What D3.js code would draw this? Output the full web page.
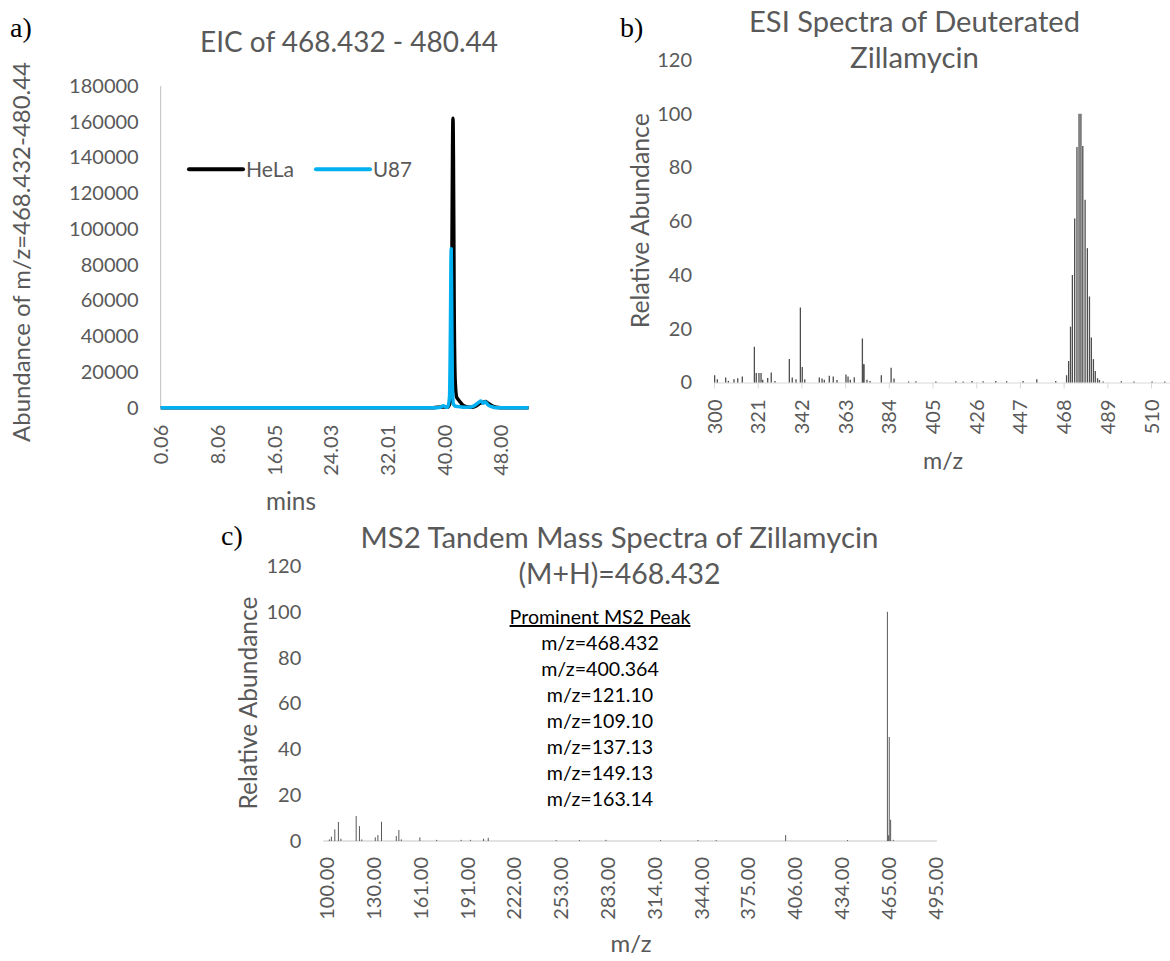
<!DOCTYPE html>
<html>
<head>
<meta charset="utf-8">
<script src="https://cdn.jsdelivr.net/npm/d3@7"></script>
<style>
body { margin: 0; background: #fff; }
svg text { font-family: Lato, "Open Sans", sans-serif; fill: #595959; }
.axis text { font-size: 20px; }
.panel-label { font-family: "Liberation Serif", "Times New Roman", serif; font-size: 28px; }
svg text.panel-label { fill: #000; }
</style>
</head>
<body>
<div id="chart"></div>
<script>

// -----------------------------------------------------------------------------
// Data
// -----------------------------------------------------------------------------

// a) extracted ion chromatogram
var eicTicks = [0.06, 8.06, 16.05, 24.03, 32.01, 40.00, 48.00];
var eicYTicks = [0, 20000, 40000, 60000, 80000, 100000, 120000, 140000, 160000, 180000];
var helaTime = [0.06, 30.0, 38.2, 39.0, 39.8, 40.5, 40.85, 41.0, 41.1, 41.18, 41.24, 41.3, 41.4, 41.55, 41.75, 42.0, 42.3, 42.7, 43.3, 44.0, 44.6, 45.1, 45.5, 45.8, 46.2, 46.7, 47.3, 48.0, 51.9];
var helaAbund = [0, 0, 0, 200, 400, 300, 3000, 25000, 90000, 145000, 162000, 140000, 60000, 15000, 6000, 4500, 3000, 1200, 400, 300, 1200, 2600, 3000, 3400, 2500, 1200, 300, 0, 0];
var u87Time = [0.06, 30.0, 38.4, 39.5, 39.87, 40.2, 40.5, 40.75, 40.88, 40.95, 40.99, 41.05, 41.15, 41.3, 41.6, 42.0, 42.6, 43.4, 44.2, 44.8, 45.2, 45.5, 45.8, 46.2, 46.7, 47.3, 51.9];
var u87Abund = [0, 0, 0, 300, 1100, 400, 200, 6000, 45000, 80000, 89000, 60000, 15000, 2000, 800, 600, 300, 200, 1000, 2800, 3700, 2500, 3300, 1500, 600, 0, 0];

// b) ESI spectrum
var esiTicks = [300, 321, 342, 363, 384, 405, 426, 447, 468, 489, 510];
var esiMz = [300.3, 301.6, 305.6, 306.9, 309.6, 311.4, 313.6, 319.4, 320.3, 321.6, 322.6, 323.4, 325.8, 327.5, 329.3,
             336.2, 337.6, 339.4, 341.5, 342.4, 343.6, 350.6, 351.9, 353.0, 355.4, 357.3, 359.1, 363.4, 364.4, 365.5,
             367.4, 371.3, 371.7, 372.1, 373.5, 375.0, 380.4, 385.1, 386.5, 393.5, 397.0, 406.6, 416.2, 419.7, 424.0,
             429.3, 435.4, 440.6, 448.5, 455.1, 464.2, 469.4, 470.4, 471.3, 472.2, 473.3, 474.4, 475.4, 476.3, 477.2,
             478.3, 479.4, 480.4, 481.3, 482.3, 483.2, 484.3, 485.2, 487.0, 495.7, 501.8, 510.5, 516.6];
var esiAbund = [2.7, 1.2, 1.9, 0.6, 1.2, 1.6, 2.2, 13.3, 3.5, 3.5, 3.5, 1.0, 1.7, 3.7, 0.6,
                8.7, 1.9, 1.2, 27.9, 5.8, 1.2, 1.9, 1.5, 1.0, 2.5, 2.2, 0.9, 3.0, 2.2, 1.0,
                2.0, 16.4, 6.8, 6.8, 1.0, 0.6, 2.7, 5.5, 1.5, 0.4, 0.5, 0.4, 0.5, 0.4, 0.6,
                0.5, 0.6, 0.5, 0.6, 1.2, 0.6, 2.7, 8.0, 20.8, 40.0, 61.0, 87.6, 100, 100, 88.0,
                68.0, 50.0, 32.0, 16.7, 8.7, 4.3, 1.6, 0.9, 0.4, 0.5, 0.4, 0.4, 0.4];

// c) MS2 spectrum
var ms2Ticks = [100, 130, 161, 191, 222, 253, 283, 314, 344, 375, 406, 434, 465, 495];
var ms2Mz = [101.7, 103.0, 105.2, 107.5, 109.1, 118.9, 121.0, 122.5, 131.2, 132.9, 135.3, 145.1, 146.8, 148.4,
             160.7, 171.5, 187.2, 193.2, 201.9, 205.0, 250.0, 265.0, 282.0, 318.0, 342.0, 354.0, 400.0, 438.0,
             464.4, 465.2, 465.6, 466.5, 468.2];
var ms2Abund = [0.7, 1.9, 5.1, 8.3, 1.0, 10.9, 6.5, 0.7, 1.6, 2.6, 8.4, 2.2, 4.8, 0.7,
                1.6, 0.5, 0.5, 0.5, 1.0, 1.4, 0.4, 0.4, 0.5, 0.4, 0.4, 0.4, 2.6, 0.4,
                100, 2.5, 45.4, 9.3, 0.5];
var ms2Peaks = ["m/z=468.432", "m/z=400.364", "m/z=121.10", "m/z=109.10", "m/z=137.13", "m/z=149.13", "m/z=163.14"];
var ratioTicks = [0, 20, 40, 60, 80, 100, 120];

// -----------------------------------------------------------------------------
// Setup
// -----------------------------------------------------------------------------

var svg = d3.select("#chart").append("svg")
    .attr("width", 1170)
    .attr("height", 961);

// Calibri is not installed, so scale Lato until the text is as wide as in the original
function fit(sel, width) {
  var w = sel.node().getComputedTextLength();
  var size = parseFloat(sel.style("font-size"));
  sel.style("font-size", (size * width / w) + "px");
  return sel;
}

function rotateXLabels(g, pad) {
  g.selectAll(".tick text")
      .attr("transform", "rotate(-90)")
      .attr("x", -pad)
      .attr("y", 0)
      .attr("dy", "0.35em")
      .style("text-anchor", "end");
}

function yAxis(x0, yScale, ticks, fmt) {
  var g = svg.append("g")
      .attr("class", "axis")
      .attr("transform", "translate(" + x0 + ",0)")
      .call(d3.axisLeft(yScale).tickValues(ticks).tickFormat(fmt).tickSize(0).tickPadding(22));
  g.select(".domain").remove();
  return g;
}

function rotatedTitle(text, x, y, width) {
  var t = svg.append("text")
      .attr("transform", "translate(" + x + "," + y + ") rotate(-90)")
      .attr("text-anchor", "middle")
      .style("font-size", "24px")
      .text(text);
  return fit(t, width);
}

function title(text, x, y, width) {
  var t = svg.append("text")
      .attr("x", x)
      .attr("y", y)
      .attr("text-anchor", "middle")
      .style("font-size", "24px")
      .text(text);
  return fit(t, width);
}

// -----------------------------------------------------------------------------
// a) EIC
// -----------------------------------------------------------------------------

var ax = d3.scaleLinear()
    .domain(eicTicks)
    .range(eicTicks.map(function(d, i) { return 160.7 + i * 56.7; }));
var ay = d3.scaleLinear().domain([0, 180000]).range([407.7, 86]);

svg.append("text").attr("class", "panel-label").attr("x", 10).attr("y", 37).text("a)");
title("EIC of 468.432 - 480.44", 349, 52, 298);
rotatedTitle("Abundance of m/z=468.432-480.44", 30, 252, 380);
title("mins", 291, 510, 50);

yAxis(160.7, ay, eicYTicks, d3.format("d"));
svg.append("line")
    .attr("x1", 160.7).attr("x2", 160.7)
    .attr("y1", ay(180000)).attr("y2", ay(0))
    .attr("stroke", "#bfbfbf");

var axg = svg.append("g")
    .attr("class", "axis")
    .attr("transform", "translate(0," + ay(0) + ")")
    .call(d3.axisBottom(ax).tickValues(eicTicks).tickFormat(d3.format(".2f")).tickSize(0));
axg.select(".domain").remove();
rotateXLabels(axg, 17);

var eicLine = d3.line()
    .x(function(d) { return ax(d[0]); })
    .y(function(d) { return ay(d[1]); })
    .curve(d3.curveMonotoneX);

svg.append("path")
    .datum(d3.zip(helaTime, helaAbund))
    .attr("d", eicLine)
    .attr("fill", "none")
    .attr("stroke", "#000")
    .attr("stroke-width", 3.5)
    .attr("stroke-linejoin", "round");

svg.append("path")
    .datum(d3.zip(u87Time, u87Abund))
    .attr("d", eicLine)
    .attr("fill", "none")
    .attr("stroke", "#00b0f0")
    .attr("stroke-width", 3.5)
    .attr("stroke-linejoin", "round");

// legend
var legend = [["HeLa", "#000", 189, 48], ["U87", "#00b0f0", 316, 39]];
legend.forEach(function(d) {
  svg.append("line")
      .attr("x1", d[2]).attr("x2", d[2] + 54)
      .attr("y1", 169.3).attr("y2", 169.3)
      .attr("stroke", d[1])
      .attr("stroke-width", 4)
      .attr("stroke-linecap", "round");
  var t = svg.append("text")
      .attr("x", d[2] + 57)
      .attr("y", 169.3)
      .attr("dy", "0.35em")
      .style("font-size", "21px")
      .text(d[0]);
  fit(t, d[3]);
});

// -----------------------------------------------------------------------------
// b) ESI spectrum
// -----------------------------------------------------------------------------

var bx = d3.scaleLinear().domain([300, 519.1]).range([714, 1170]);
var by = d3.scaleLinear().domain([0, 120]).range([382.5, 60]);

svg.append("text").attr("class", "panel-label").attr("x", 620).attr("y", 37).text("b)");
title("ESI Spectra of Deuterated", 914.5, 32, 331);
title("Zillamycin", 914.5, 68, 129);
rotatedTitle("Relative Abundance", 649, 220.7, 215);
title("m/z", 943, 469, 40);

yAxis(714, by, ratioTicks, d3.format("d"));

var bxg = svg.append("g")
    .attr("class", "axis")
    .attr("transform", "translate(0," + by(0) + ")")
    .call(d3.axisBottom(bx).tickValues(esiTicks).tickFormat(d3.format("d")).tickSize(6).tickSizeOuter(0));
bxg.selectAll("path, line").attr("stroke", "#d9d9d9");
rotateXLabels(bxg, 17);

svg.append("g").selectAll("line")
    .data(d3.zip(esiMz, esiAbund))
  .enter().append("line")
    .attr("x1", function(d) { return bx(d[0]); })
    .attr("x2", function(d) { return bx(d[0]); })
    .attr("y1", by(0))
    .attr("y2", function(d) { return by(d[1]); })
    .attr("stroke", "#4d4d4d")
    .attr("stroke-width", 1.3);

// -----------------------------------------------------------------------------
// c) MS2 spectrum
// -----------------------------------------------------------------------------

var cx = d3.scaleLinear()
    .domain(ms2Ticks)
    .range(ms2Ticks.map(function(d, i) { return 326.7 + i * 46.8; }));
var cy = d3.scaleLinear().domain([0, 120]).range([841, 566]);

svg.append("text").attr("class", "panel-label").attr("x", 221).attr("y", 545).text("c)");
title("MS2 Tandem Mass Spectra of Zillamycin", 619.5, 548, 518);
title("(M+H)=468.432", 619.5, 584, 202);
rotatedTitle("Relative Abundance", 257, 703, 213);
title("m/z", 631, 952, 41);

yAxis(323.3, cy, ratioTicks, d3.format("d"));

svg.append("line")
    .attr("x1", cx(97.8)).attr("x2", cx(496.2))
    .attr("y1", cy(0)).attr("y2", cy(0))
    .attr("stroke", "#d9d9d9")
    .attr("stroke-width", 1.5);

var cxg = svg.append("g")
    .attr("class", "axis")
    .attr("transform", "translate(0," + cy(0) + ")")
    .call(d3.axisBottom(cx).tickValues(ms2Ticks).tickFormat(d3.format(".2f")).tickSize(0));
cxg.select(".domain").remove();
rotateXLabels(cxg, 16);

svg.append("g").selectAll("line")
    .data(d3.zip(ms2Mz, ms2Abund))
  .enter().append("line")
    .attr("x1", function(d) { return cx(d[0]); })
    .attr("x2", function(d) { return cx(d[0]); })
    .attr("y1", cy(0))
    .attr("y2", function(d) { return cy(d[1]); })
    .attr("stroke", "#595959")
    .attr("stroke-width", 1);

// peak list
var note = svg.append("g").attr("transform", "translate(600,0)");
var head = note.append("text")
    .attr("y", 624)
    .attr("text-anchor", "middle")
    .style("font-size", "18px")
    .style("fill", "#000")
    .style("text-decoration", "underline")
    .text("Prominent MS2 Peak");
fit(head, 181);
note.selectAll(".peak")
    .data(ms2Peaks)
  .enter().append("text")
    .attr("class", "peak")
    .attr("y", function(d, i) { return 650 + i * 26; })
    .attr("text-anchor", "middle")
    .style("font-size", head.style("font-size"))
    .style("fill", "#000")
    .text(function(d) { return d; });

</script>
</body>
</html>
